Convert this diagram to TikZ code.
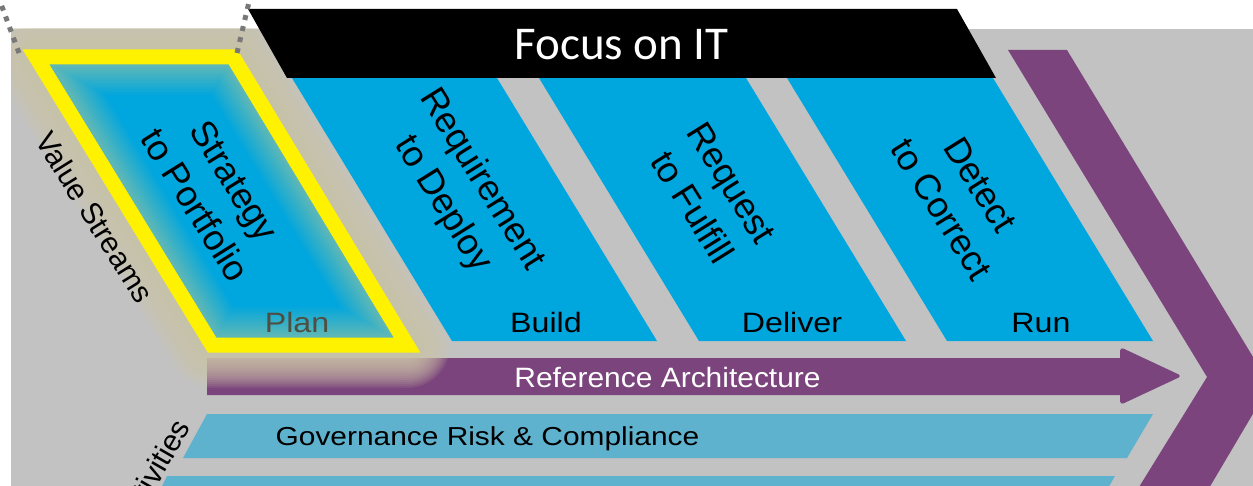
\documentclass[tikz,border=0pt]{standalone}
\usepackage{fontspec}
\setmainfont{Liberation Sans}
\newfontfamily\calfont{Carlito}
\definecolor{grayBG}{RGB}{194,194,194}
\definecolor{blueV}{RGB}{0,166,222}
\definecolor{tealC}{RGB}{93,183,183}
\definecolor{purp}{RGB}{123,68,125}
\definecolor{govB}{RGB}{95,178,206}
\definecolor{tanC}{RGB}{206,198,170}
\definecolor{dotG}{RGB}{120,120,120}
\definecolor{planC}{RGB}{78,78,66}
\begin{document}
\begin{tikzpicture}[x=1pt,y=-1pt,
  lbl/.style={font=\fontsize{28}{30}\selectfont, xscale=1.15, inner sep=0pt, anchor=base},
  vstitle/.style={font=\fontsize{36}{46}\selectfont, rotate=-58, align=center, inner sep=0pt},
  sidelbl/.style={font=\fontsize{30}{32}\selectfont, inner sep=0pt},
  dotline/.style={dotG, line width=5pt, dash pattern=on 5pt off 6.3pt},
  vsbox/.style={fill=blueV},
]
\useasboundingbox (0,0) rectangle (1253,486);
\clip (0,0) rectangle (1253,486);
% background
\fill[white] (0,0) rectangle (1253,486);
\fill[grayBG] (11,29) rectangle (1253,500);
% chevron
\fill[purp] (1008,50) -- (1067,50) -- (1270,385) -- (1202,500) -- (1131,500) -- (1207,377) -- cycle;
% activity bars
\fill[govB] (207,414) -- (1153,414) -- (1127,458) -- (183,458) -- cycle;
\fill[govB] (167,476) -- (1115,476) -- (1101,500) -- (155,500) -- cycle;
% reference architecture arrow
\fill[purp] (207,358) -- (1120,358) [rounded corners=4pt] -- (1120,347) -- (1182,376) -- (1120,405) [sharp corners] -- (1120,395) -- (207,395) -- cycle;
% glow around the highlighted stream
\begin{scope}
  \clip (11,29) rectangle (1253,500);
  \foreach \w in {86,82,...,22}
    \draw[tanC, line width=\w pt, opacity=0.12, line join=round] (36,57) -- (233,57) -- (407,345) -- (212,345) -- cycle;
\end{scope}
% value streams
\fill[vsbox] (452,341) -- (657,341) -- (497,78) -- (292,78) -- cycle;
\fill[vsbox] (699,341) -- (906,341) -- (746,78) -- (539,78) -- cycle;
\fill[vsbox] (947,341) -- (1153,341) -- (993,78) -- (787,78) -- cycle;
% black banner
\fill[black] (248,9) -- (957,9) -- (996,78) -- (287,78) -- cycle;
\node[text=white, font=\calfont\fontsize{47}{50}\selectfont, inner sep=0pt, anchor=base] (focus) at (621.5,60) {Focus on IT};
% highlighted stream
\fill[tealC] (36,57) -- (233,57) -- (407,345) -- (212,345) -- cycle;
\foreach \D [count=\i] in {10,11.5,...,40} {
  \pgfmathtruncatemacro{\p}{min(100,\i*5)}
  \fill[blueV!\p!tealC] ({212+0.564*\D},{345-\D}) -- ({407-1.772*\D},{345-\D}) -- ({407-1.772*\D-0.604*(288-2*\D)},{57+\D}) -- ({212+0.564*\D-0.604*(288-2*\D)},{57+\D}) -- cycle;
}
\draw[yellow, line width=15pt, line join=miter] (36,57) -- (233,57) -- (407,345) -- (212,345) -- cycle;
% dotted zoom lines
\coordinate (fl) at (19,53);
\coordinate (flt) at (1,4);
\coordinate (fr) at (237,53);
\coordinate (frt) at (249,2);
\draw[dotline] (fl) -- (flt);
\draw[dotline] (fr) -- (frt);
% stream titles
\node[vstitle] (s2p) at (215,193) {Strategy\\to Portfolio};
\node[vstitle] (r2d) at (462,192) {Requirement\\to Deploy};
\node[vstitle] (r2f) at (712,195) {Request\\to Fulfill};
\node[vstitle] (d2c) at (961,197) {Detect\\to Correct};
% phase labels
\node[lbl, text=planC] (plan) at (297,332) {Plan};
\node[lbl] (build) at (546,332) {Build};
\node[lbl] (deliver) at (792,332) {Deliver};
\node[lbl] (run) at (1041,332) {Run};
% bars text
\node[lbl, text=white, xscale=0.93] (refarch) at (667.5,387) {Reference Architecture};
\node[font=\fontsize{26}{28}\selectfont, xscale=1.15, inner sep=0pt, anchor=base] (grc) at (487.5,445) {Governance Risk \& Compliance};
% side labels
\node[sidelbl, rotate=-58] (vs) at (95,217) {Value Streams};
\node[sidelbl, rotate=60, anchor=east] (act) at (182,422) {tivities};
\end{tikzpicture}
\end{document}
